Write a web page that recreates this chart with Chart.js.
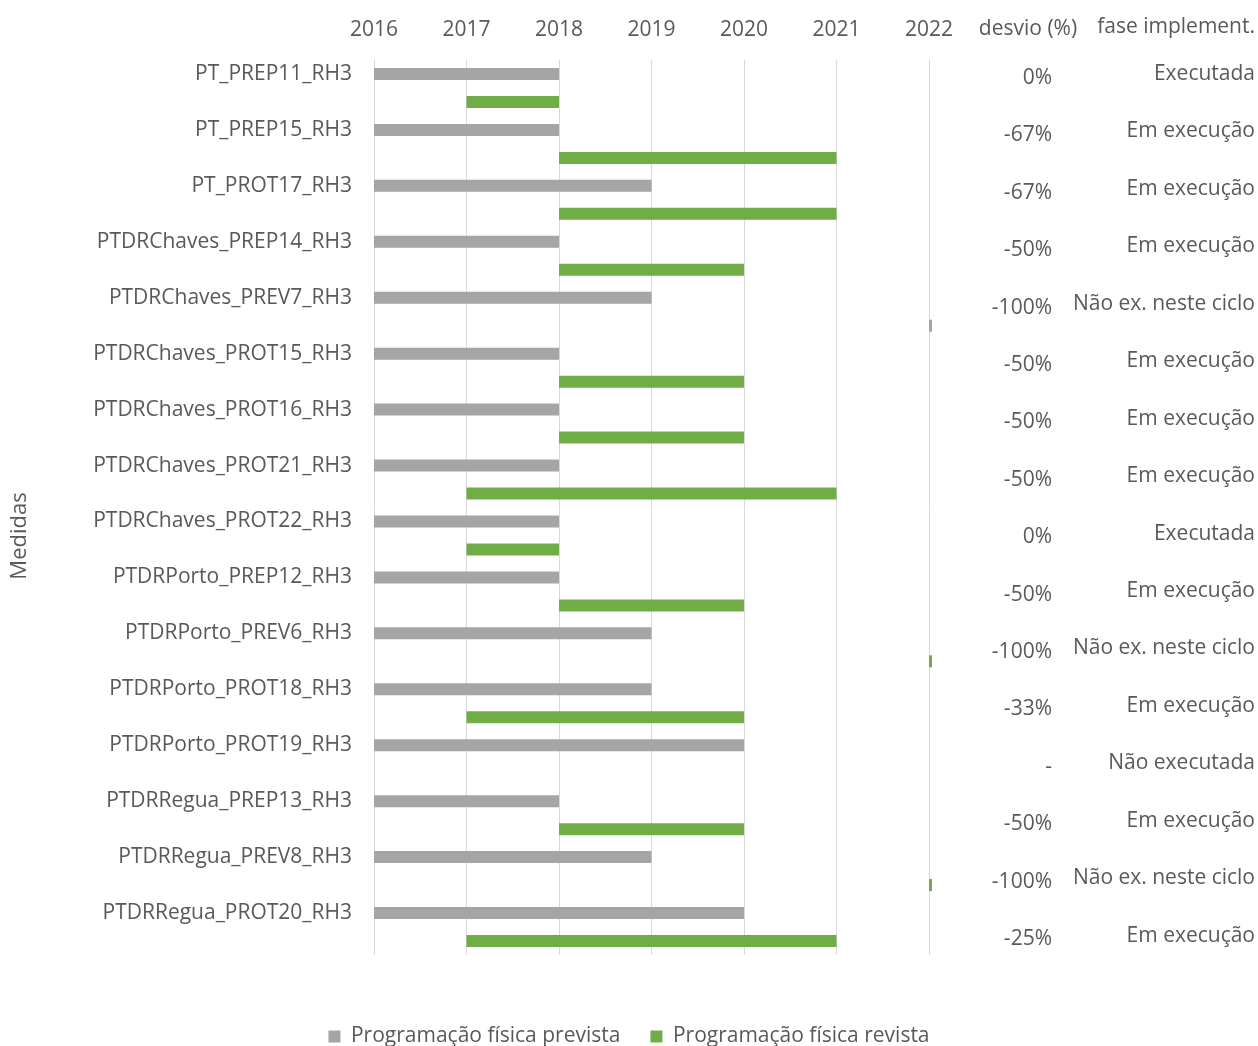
<!DOCTYPE html>
<html>
<head>
<meta charset="utf-8">
<script src="https://cdn.jsdelivr.net/npm/chart.js@4"></script>
<style>
  html, body { margin: 0; padding: 0; background: #fff; }
  #wrap { width: 1258px; height: 1046px; }
</style>
</head>
<body>
<div id="wrap"><canvas id="chart"></canvas></div>
<script>
const medidas = [
    'PT_PREP11_RH3', 'PT_PREP15_RH3', 'PT_PROT17_RH3', 'PTDRChaves_PREP14_RH3',
    'PTDRChaves_PREV7_RH3', 'PTDRChaves_PROT15_RH3', 'PTDRChaves_PROT16_RH3',
    'PTDRChaves_PROT21_RH3', 'PTDRChaves_PROT22_RH3', 'PTDRPorto_PREP12_RH3',
    'PTDRPorto_PREV6_RH3', 'PTDRPorto_PROT18_RH3', 'PTDRPorto_PROT19_RH3',
    'PTDRRegua_PREP13_RH3', 'PTDRRegua_PREV8_RH3', 'PTDRRegua_PROT20_RH3'
];
// [start, end] years
const prevista = [
    [2016, 2018], [2016, 2018], [2016, 2019], [2016, 2018],
    [2016, 2019], [2016, 2018], [2016, 2018], [2016, 2018],
    [2016, 2018], [2016, 2018], [2016, 2019], [2016, 2019],
    [2016, 2020], [2016, 2018], [2016, 2019], [2016, 2020]
];
const revista = [
    [2017, 2018], [2018, 2021], [2018, 2021], [2018, 2020],
    [2022, 2022], [2018, 2020], [2018, 2020], [2017, 2021],
    [2017, 2018], [2018, 2020], [2022, 2022], [2017, 2020],
    null, [2018, 2020], [2022, 2022], [2017, 2021]
];
const desvio = ['0%', '-67%', '-67%', '-50%', '-100%', '-50%', '-50%', '-50%',
    '0%', '-50%', '-100%', '-33%', '-', '-50%', '-100%', '-25%'];
const fase = ['Executada', 'Em execução', 'Em execução', 'Em execução', 'Não ex. neste ciclo',
    'Em execução', 'Em execução', 'Em execução', 'Executada', 'Em execução',
    'Não ex. neste ciclo', 'Em execução', 'Não executada', 'Em execução',
    'Não ex. neste ciclo', 'Em execução'];
const years = [2016, 2017, 2018, 2019, 2020, 2021, 2022];

const TXT = '#595959';
const GREY = '#a5a5a5';
const GREEN = '#70ad47';
const FONT = "'Open Sans', sans-serif";

// the revised bar of PREV7 is drawn grey in the original
const revista_colors = revista.map((v, i) => i === 4 ? GREY : GREEN);

const table_plugin = {
    id: 'side_table',
    afterDraw: (chart) => {
        const ctx = chart.ctx;
        ctx.save();
        ctx.fillStyle = TXT;
        ctx.font = '21px ' + FONT;
        ctx.textBaseline = 'middle';
        ctx.textAlign = 'center';
        ctx.fillText('desvio (%)', 1028, 29);
        ctx.textAlign = 'right';
        ctx.fillText('fase implement.', 1255, 27);
        for (let i = 0; i < desvio.length; i++) {
            ctx.fillText(desvio[i], 1052, 78 + 57.4 * i);
            ctx.fillText(fase[i], 1255, 74 + 57.45 * i);
        }
        // axis title "Medidas"
        ctx.translate(20, 536);
        ctx.rotate(-Math.PI / 2);
        ctx.textAlign = 'center';
        ctx.font = '22px ' + FONT;
        ctx.fillText('Medidas', 0, 0);
        ctx.restore();
    }
};

const config = {
    type: 'bar',
    data: {
        labels: medidas,
        datasets: [
            {
                label: 'Programação física prevista',
                data: prevista,
                backgroundColor: GREY,
                barPercentage: 0.43,
                categoryPercentage: 1,
                xAxisID: 'x',
                yAxisID: 'y'
            },
            {
                label: 'Programação física revista',
                data: revista,
                backgroundColor: revista_colors,
                barPercentage: 0.43,
                categoryPercentage: 1,
                minBarLength: 3,
                clip: false,
                xAxisID: 'x',
                yAxisID: 'y'
            }
        ]
    },
    options: {
        indexAxis: 'y',
        animation: false,
        responsive: true,
        maintainAspectRatio: false,
        layout: {
            padding: { left: 0, right: 0, top: 0, bottom: -11 }
        },
        scales: {
            x: {
                position: 'top',
                min: 2016,
                max: 2022,
                afterBuildTicks: (axis) => {
                    axis.ticks = years.map(v => ({ value: v }));
                },
                afterFit: (axis) => { axis.height = 60; },
                grid: {
                    color: '#d9d9d9',
                    lineWidth: 1,
                    drawTicks: false
                },
                border: { display: false },
                ticks: {
                    color: TXT,
                    padding: 17,
                    font: { family: FONT, size: 21 },
                    callback: (v) => String(v)
                }
            },
            gap: {
                type: 'linear',
                position: 'bottom',
                afterFit: (axis) => { axis.height = 41; },
                grid: { display: false, drawTicks: false },
                border: { display: false },
                ticks: { display: false }
            },
            side: {
                type: 'linear',
                position: 'right',
                afterFit: (axis) => { axis.width = 329; },
                grid: { display: false, drawTicks: false },
                border: { display: false },
                ticks: { display: false }
            },
            y: {
                type: 'category',
                position: 'left',
                afterFit: (axis) => { axis.width = 374; },
                grid: { display: false, drawTicks: false },
                border: { display: false },
                ticks: {
                    color: TXT,
                    padding: 22,
                    labelOffset: -14,
                    autoSkip: false,
                    font: { family: FONT, size: 21 }
                }
            }
        },
        plugins: {
            legend: {
                position: 'bottom',
                labels: {
                    color: TXT,
                    boxWidth: 12,
                    boxHeight: 12,
                    padding: 30,
                    font: { family: FONT, size: 21 }
                }
            },
            tooltip: { enabled: false }
        }
    },
    plugins: [table_plugin]
};

new Chart(document.getElementById('chart').getContext('2d'), config);
</script>
</body>
</html>
